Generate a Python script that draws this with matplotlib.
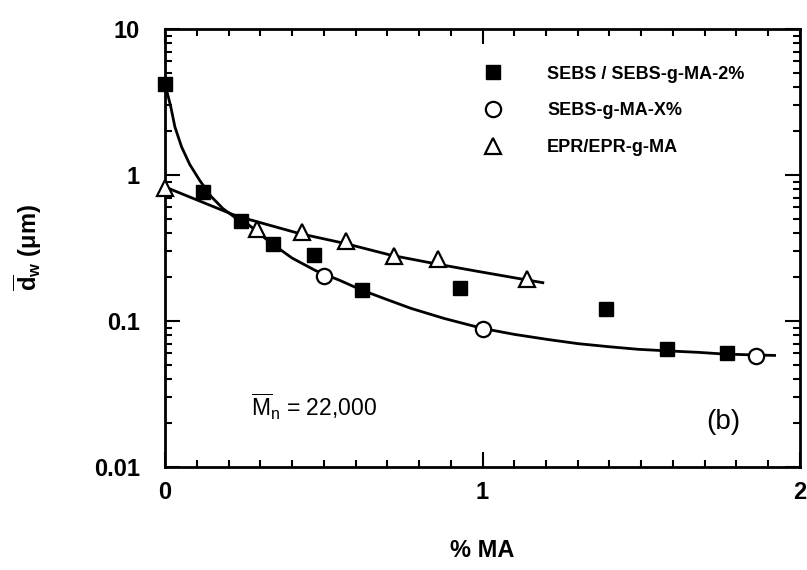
import matplotlib
matplotlib.use("Agg")
import matplotlib.pyplot as plt
from matplotlib.ticker import FixedLocator, NullFormatter, MultipleLocator, LogLocator

# ---- data ----
sebs_x = [0, 0.12, 0.24, 0.34, 0.47, 0.62, 0.93, 1.39, 1.58, 1.77]
sebs_y = [4.2, 0.77, 0.485, 0.335, 0.284, 0.163, 0.168, 0.12, 0.064, 0.060]

circ_x = [0.50, 1.0, 1.86]
circ_y = [0.204, 0.088, 0.058]

tri_x = [0, 0.29, 0.43, 0.57, 0.72, 0.86, 1.14]
tri_y = [0.815, 0.43, 0.407, 0.351, 0.28, 0.265, 0.193]

# fitted curves
fit1_x = [0, 0.018, 0.031, 0.052, 0.078, 0.109, 0.146, 0.182, 0.224, 0.256, 0.328,
          0.40, 0.475, 0.55, 0.619, 0.70, 0.775, 0.88, 1.0, 1.1, 1.206, 1.30,
          1.397, 1.49, 1.584, 1.68, 1.765, 1.92]
fit1_y = [4.2, 2.94, 2.14, 1.56, 1.18, 0.92, 0.71, 0.59, 0.505, 0.47, 0.35,
          0.27, 0.221, 0.19, 0.163, 0.14, 0.122, 0.104, 0.089, 0.081, 0.0747, 0.070,
          0.0667, 0.064, 0.0624, 0.061, 0.0593, 0.0581]

fit2_x = [0, 0.225, 0.422, 0.569, 0.7125, 0.859, 0.984, 1.14, 1.19]
fit2_y = [0.828, 0.524, 0.398, 0.339, 0.282, 0.245, 0.219, 0.191, 0.183]

labels = ["SEBS / SEBS-g-MA-2%", "SEBS-g-MA-X%", "EPR/EPR-g-MA"]
yticks = [0.01, 0.1, 1, 10]
yticklabels = ["0.01", "0.1", "1", "10"]
xticks = [0, 1, 2]
xticklabels = ["0", "1", "2"]

plt.rcParams['font.family'] = ['Liberation Sans', 'DejaVu Sans']
plt.rcParams['mathtext.fontset'] = 'custom'
plt.rcParams['mathtext.rm'] = 'Liberation Sans'
plt.rcParams['mathtext.bf'] = 'Liberation Sans:bold'
plt.rcParams['mathtext.it'] = 'Liberation Sans:italic'

fig = plt.figure(figsize=(8.07, 5.70), dpi=100)
ax = fig.add_axes([0.2045, 0.1807, 0.7868, 0.7684])

ax.plot(fit1_x, fit1_y, color='black', lw=2.0, zorder=2)
ax.plot(fit2_x, fit2_y, color='black', lw=2.0, zorder=2)

ax.plot(sebs_x, sebs_y, ls='none', marker='s', ms=10, mfc='black', mec='black',
        label=labels[0], zorder=3, clip_on=False)
ax.plot(circ_x, circ_y, ls='none', marker='o', ms=11, mfc='white', mec='black', mew=1.6,
        label=labels[1], zorder=3, clip_on=False)
ax.plot(tri_x, tri_y, ls='none', marker='^', ms=11, mfc='white', mec='black', mew=1.6,
        label=labels[2], zorder=3, clip_on=False)

ax.set_yscale('log')
ax.set_ylim(0.01, 10)
ax.set_xlim(0, 2)

ax.yaxis.set_major_locator(FixedLocator(yticks))
ax.set_yticklabels(yticklabels)
ax.yaxis.set_minor_locator(LogLocator(base=10, subs=range(2, 10)))
ax.yaxis.set_minor_formatter(NullFormatter())
ax.xaxis.set_major_locator(FixedLocator(xticks))
ax.set_xticklabels(xticklabels)
ax.xaxis.set_minor_locator(MultipleLocator(0.1))

for s in ax.spines.values():
    s.set_linewidth(2.0)

ax.tick_params(which='both', direction='in', top=True, right=True, width=1.5)
ax.tick_params(which='major', length=11)
ax.tick_params(which='minor', length=5)
ax.tick_params(axis='x', which='major', pad=10, labelsize=17)
ax.tick_params(axis='y', which='major', pad=18, labelsize=17)
for t in ax.get_xticklabels() + ax.get_yticklabels():
    t.set_fontweight('bold')

ax.set_xlabel('% MA', fontsize=17, fontweight='bold', labelpad=25)
ax.set_ylabel(r'$\overline{\mathbf{d}}_{\mathbf{w}}$ ($\mathbf{\mu}$m)', fontsize=17,
              fontweight='bold', labelpad=36)

leg = ax.legend(loc='upper left', bbox_to_anchor=(0.488, 0.937), frameon=False,
                borderpad=0, handlelength=1.0, handletextpad=2.5, labelspacing=1.1,
                prop={'family': 'Liberation Sans', 'weight': 'bold', 'size': 13})

ax.text(0.135, 0.137, r'$\overline{\mathrm{M}}_{\mathrm{n}}$ = 22,000', transform=ax.transAxes,
        fontsize=16.5, va='center', ha='left')
ax.text(0.879, 0.103, '(b)', transform=ax.transAxes, fontsize=20, va='center', ha='center')

fig.savefig('out.png', dpi=100)
